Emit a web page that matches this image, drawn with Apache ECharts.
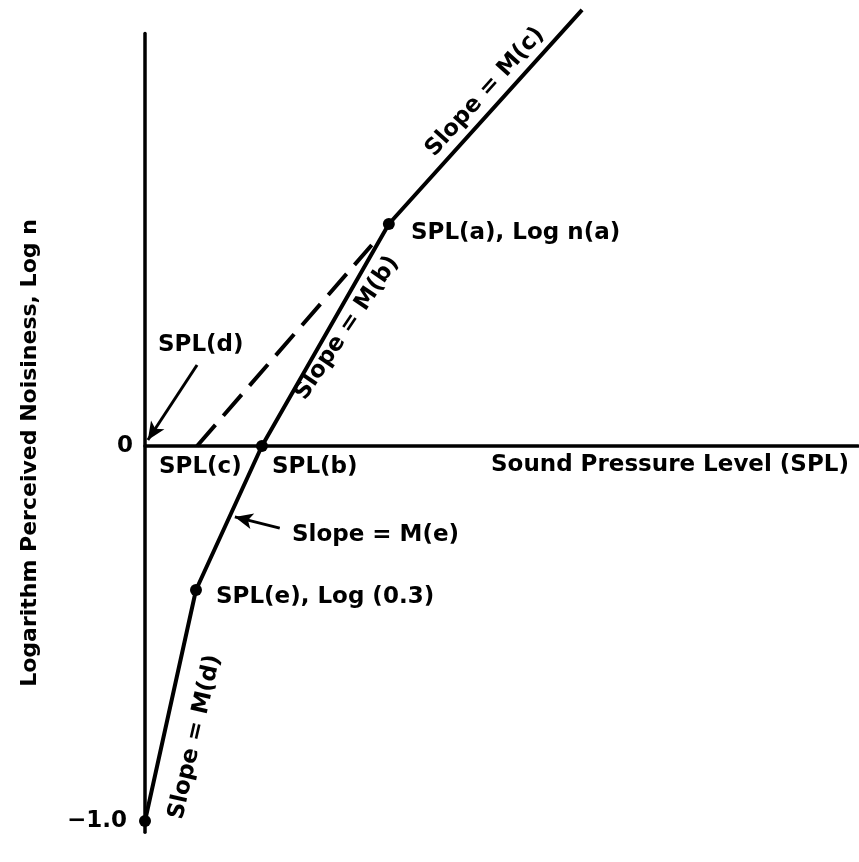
<!DOCTYPE html>
<html><head><meta charset="utf-8">
<script src="https://cdn.jsdelivr.net/npm/echarts@6/dist/echarts.min.js"></script>
<style>html,body{margin:0;padding:0;background:#fff}#c{width:859px;height:862px}</style>
</head><body><div id="c"></div>
<script>
// Piecewise noisiness curve (schematic units: SPL, log n)
const curveX = [0, 7.15, 16.4, 34.2, 61.3];
const curveY = [-1.0, -0.384, 0, 0.592, 1.163];
// Marked break points: (-1.0), SPL(e), SPL(b), SPL(a)
const markedX = [0, 7.15, 16.4, 34.2];
const markedY = [-1.0, -0.384, 0, 0.592];
// Dashed extension from SPL(c) toward SPL(a)
const dashX = [7.3, 31.8];
const dashY = [0, 0.536];
// Arrows [tail, tip]
const arrowDX = [7.3, 0.4], arrowDY = [0.216, 0.016];
const arrowEX = [18.9, 12.6], arrowEY = [-0.219, -0.189];
// Y tick labels
const yTickValues = [-1, 0];
const yTickLabels = ['\u22121.0', '0'];

const FONT = 'bold 23px "DejaVu Sans"';
const zip = (a, b) => a.map((v, i) => [v, b[i]]);

const chart = echarts.init(document.getElementById('c'), null, {renderer: 'canvas'});
const deg = d => d * Math.PI / 180;
function txt(t, x, y, align, rot, font) {
  return {type: 'text', x: x, y: y, rotation: rot ? deg(rot) : 0, silent: true,
    style: {text: t, x: 0, y: 0, font: font || FONT, fill: '#000', align: align || 'left', verticalAlign: 'middle'}};
}
chart.setOption({
  animation: false,
  backgroundColor: '#fff',
  grid: {left: 145, right: 1, top: 33.5, bottom: 29.75},
  xAxis: {type: 'value', min: 0, max: 100,
    axisLine: {onZero: true, lineStyle: {color: '#000', width: 3.5}},
    axisTick: {show: false}, axisLabel: {show: false}, splitLine: {show: false}},
  yAxis: {type: 'value', min: -1.03, max: 1.1,
    axisLine: {show: true, onZero: false, lineStyle: {color: '#000', width: 3.5}},
    axisTick: {show: false}, splitLine: {show: false},
    axisLabel: {customValues: yTickValues, margin: 12, color: '#000',
      fontSize: 23, fontWeight: 'bold', fontFamily: 'DejaVu Sans',
      formatter: v => { const i = yTickValues.indexOf(v); return i === 0 ? '{m|' + yTickLabels[i] + '}' : (i >= 0 ? yTickLabels[i] : ''); },
      rich: {m: {padding: [0, 6, 0, 0], fontSize: 23, fontWeight: 'bold', fontFamily: 'DejaVu Sans', color: '#000'}}}},
  series: [
    {type: 'line', data: zip(curveX, curveY), symbol: 'none', clip: false,
      lineStyle: {color: '#000', width: 4}},
    {type: 'line', data: zip(dashX, dashY), symbol: 'none',
      lineStyle: {color: '#000', width: 4, type: [28, 12]},
      markLine: {silent: true, symbol: ['none', 'arrow'], symbolSize: [12, 18],
        label: {show: false}, lineStyle: {color: '#000', width: 3, type: 'solid'},
        data: [
          [{coord: [arrowDX[0], arrowDY[0]]}, {coord: [arrowDX[1], arrowDY[1]]}],
          [{coord: [arrowEX[0], arrowEY[0]]}, {coord: [arrowEX[1], arrowEY[1]]}]
        ]}},
    {type: 'scatter', data: zip(markedX, markedY), symbol: 'circle', symbolSize: 12,
      itemStyle: {color: '#000', opacity: 1}, clip: false}
  ],
  graphic: [
    txt('Logarithm Perceived Noisiness, Log n', 30, 453, 'center', 90, 'bold 22px "DejaVu Sans"'),
    txt('Sound Pressure Level (SPL)', 670, 465, 'center'),
    txt('SPL(d)', 158, 345),
    txt('SPL(c)', 159, 467),
    txt('SPL(b)', 272, 467),
    txt('SPL(e), Log (0.3)', 216, 597),
    txt('SPL(a), Log n(a)', 411, 233),
    txt('Slope = M(e)', 292, 535),
    txt('Slope = M(c)', 485, 92, 'center', 48),
    txt('Slope = M(b)', 347, 328, 'center', 56),
    txt('Slope = M(d)', 195, 737, 'center', 77)
  ]
});
</script></body></html>
